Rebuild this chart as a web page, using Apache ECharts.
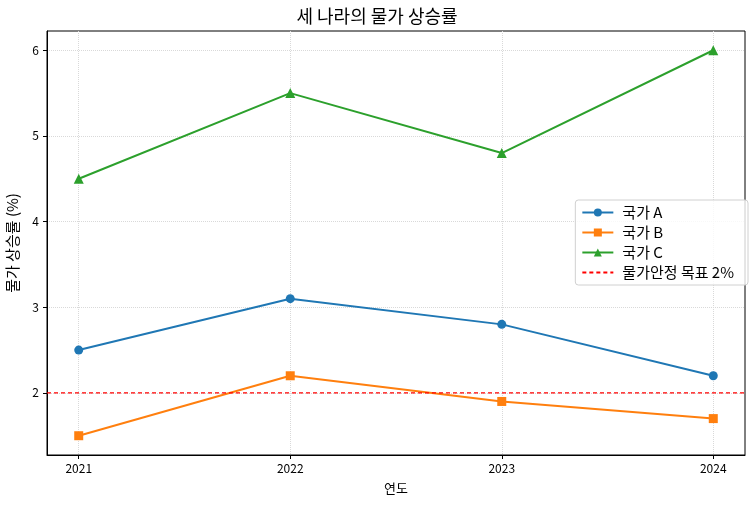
<!DOCTYPE html>
<html>
<head>
<meta charset="utf-8">
<script src="https://cdn.jsdelivr.net/npm/echarts@6/dist/echarts.min.js"></script>
<style>
  html, body { margin: 0; padding: 0; background: #fff; }
  #main { width: 754px; height: 506px; }
</style>
</head>
<body>
<div id="main"></div>
<script>
// 데이터
var years = [2021, 2022, 2023, 2024];
var countryA = [2.5, 3.1, 2.8, 2.2];
var countryB = [1.5, 2.2, 1.9, 1.7];
var countryC = [4.5, 5.5, 4.8, 6.0];
var targetRate = 2;
var yTicks = [2, 3, 4, 5, 6];

// 축 범위 (matplotlib 기본 여백 5%)
var xMin = 2020.85, xMax = 2024.15;
var yMin = 1.275, yMax = 6.225;

var font = "'Noto Sans CJK KR', 'Noto Sans', sans-serif";

function pairs(vals) {
  return years.map(function (y, i) { return [y, vals[i]]; });
}

var chart = echarts.init(document.getElementById('main'), null, { renderer: 'canvas' });

function lineSeries(name, vals, color, symbol, size) {
  return {
    name: name,
    type: 'line',
    data: pairs(vals),
    symbol: symbol,
    symbolSize: size,
    itemStyle: { color: color },
    lineStyle: { color: color, width: 2 },
    emphasis: { disabled: true },
    animation: false
  };
}

var targetName = '물가안정 목표 2%';

var option = {
  backgroundColor: '#fff',
  textStyle: { fontFamily: font },
  title: {
    text: '세 나라의 물가 상승률',
    left: 'center',
    top: 2,
    textStyle: { fontFamily: font, fontSize: 18, fontWeight: 'normal', color: '#000' }
  },
  grid: {
    left: 47, right: 9, top: 31, bottom: 51,
    outerBoundsMode: 'none',
    containLabel: false,
    show: true, borderColor: '#000', borderWidth: 1
  },
  legend: {
    orient: 'vertical',
    right: 6,
    top: 200,
    itemWidth: 31,
    itemHeight: 10,
    itemGap: 5,
    padding: [5, 14, 5, 6],
    backgroundColor: 'rgba(255,255,255,0.8)',
    borderColor: '#d0d0d0',
    borderWidth: 1,
    borderRadius: 3,
    textStyle: { fontFamily: font, fontSize: 15, color: '#000', padding: [0, 0, 0, 4] },
    data: ['국가 A', '국가 B', '국가 C',
      { name: targetName, itemStyle: { opacity: 0 } }]
  },
  xAxis: {
    type: 'value',
    min: xMin,
    max: xMax,
    name: '연도',
    nameLocation: 'middle',
    nameGap: 27,
    nameTextStyle: { fontFamily: font, fontSize: 13, color: '#000' },
    axisLine: { show: true, onZero: false, lineStyle: { color: '#000' } },
    axisTick: { show: true, length: 4, customValues: years, lineStyle: { color: '#000' } },
    axisLabel: { customValues: years, fontSize: 12, color: '#000', margin: 7, formatter: function (v) { return String(v); } },
    splitLine: { show: true, lineStyle: { color: '#d9d9d9', type: 'dotted', width: 1 } }
  },
  yAxis: {
    type: 'value',
    min: yMin,
    max: yMax,
    name: '물가 상승률 (%)',
    nameLocation: 'middle',
    nameGap: 27,
    nameTextStyle: { fontFamily: font, fontSize: 15, color: '#000' },
    axisLine: { show: true, lineStyle: { color: '#000' } },
    axisTick: { show: true, length: 4, customValues: yTicks, lineStyle: { color: '#000' } },
    axisLabel: { customValues: yTicks, fontSize: 12, color: '#000', margin: 8 },
    splitLine: { show: true, lineStyle: { color: '#d9d9d9', type: 'dotted', width: 1 } }
  },
  series: [
    lineSeries('국가 A', countryA, '#1f77b4', 'circle', 9),
    lineSeries('국가 B', countryB, '#ff7f0e', 'rect', 9),
    lineSeries('국가 C', countryC, '#2ca02c', 'triangle', 10),
    {
      // axhline: 축 전체 폭으로 그리는 기준선
      name: targetName,
      type: 'line',
      data: [[xMin, targetRate], [xMax, targetRate]],
      symbol: 'none',
      silent: true,
      itemStyle: { color: '#ff0000' },
      lineStyle: { color: '#ff0000', type: [4, 3], width: 1.2 },
      emphasis: { disabled: true },
      animation: false
    }
  ]
};

chart.setOption(option);
</script>
</body>
</html>
